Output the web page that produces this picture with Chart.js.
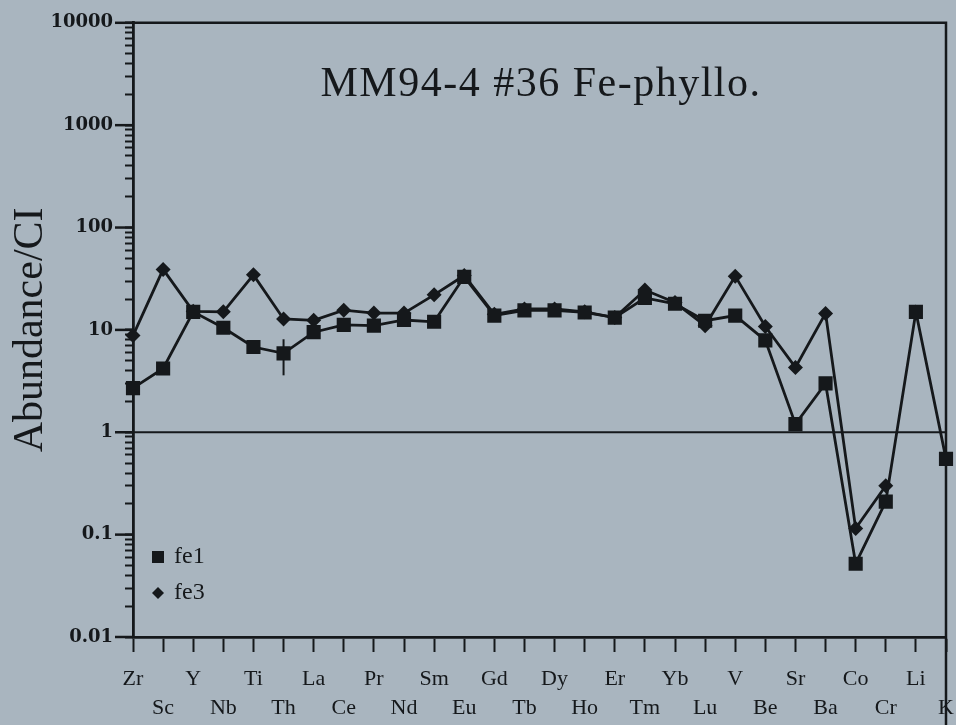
<!DOCTYPE html>
<html lang="en">
<head>
  <meta charset="UTF-8">
  <title>MM94-4 #36 Fe-phyllo.</title>
  <script src="https://cdn.jsdelivr.net/npm/chart.js"></script>
  <style>
    body {
      margin: 0;
      padding: 0;
      background: #a9b5bf;
    }
    #chart-wrap {
      width: 956px;
      height: 725px;
    }
  </style>
</head>
<body>
  <div id="chart-wrap">
    <canvas id="spider" width="956" height="725"></canvas>
  </div>
  <script>
    // element order along the x axis
    const elements = ['Zr','Sc','Y','Nb','Ti','Th','La','Ce','Pr','Nd','Sm','Eu','Gd','Tb','Dy','Ho','Er','Tm','Yb','Lu','V','Be','Sr','Ba','Co','Cr','Li','K'];

    // abundances normalised to CI
    const fe1 = [2.7, 4.2, 15, 10.5, 6.8, 5.9, 9.5, 11.2, 11, 12.5, 12, 33, 13.8, 15.5, 15.5, 14.8, 13.2, 20.5, 18, 12.3, 13.8, 7.9, 1.2, 3.0, 0.052, 0.21, 15, 0.55];
    const fe3 = [8.8, 39, 15.2, 15, 34.5, 12.8, 12.4, 15.6, 14.6, 14.6, 22, 34, 14.2, 16, 16, 15, 13.2, 24.5, 18.5, 11, 33.5, 10.8, 4.3, 14.5, 0.115, 0.3, null, null];

    // error bar on fe1 (only Th has one)
    const fe1ErrLow  = [null,null,null,null,null,3.6,null,null,null,null,null,null,null,null,null,null,null,null,null,null,null,null,null,null,null,null,null,null];
    const fe1ErrHigh = [null,null,null,null,null,8.1,null,null,null,null,null,null,null,null,null,null,null,null,null,null,null,null,null,null,null,null,null,null];

    // y axis decades and their labels
    const decades = [0.01, 0.1, 1, 10, 100, 1000, 10000];
    const decadeLabels = ['0.01', '0.1', '1', '10', '100', '1000', '10000'];
    const refLevel = 1;

    const ink = '#15181b';
    const bg = '#a9b5bf';
    const serif = "'Liberation Serif', 'Times New Roman', serif";

    // fond, cadre, ligne a 1, barre d'erreur, titre et legende
    const decor = {
      id: 'decor',
      beforeDraw(chart) {
        const c = chart.ctx;
        c.save();
        c.fillStyle = bg;
        c.fillRect(0, 0, chart.width, chart.height);
        c.restore();
      },
      beforeDatasetsDraw(chart) {
        const c = chart.ctx;
        const a = chart.chartArea;
        const y = chart.scales.y;
        const x = chart.scales.x;
        c.save();
        c.strokeStyle = ink;
        c.lineWidth = 2.5;
        // box
        c.beginPath();
        c.moveTo(a.left, a.top);
        c.lineTo(a.right, a.top);
        c.lineTo(a.right, chart.height);
        c.stroke();
        // major ticks, longer than the minor ones
        decades.forEach(v => {
          const py = y.getPixelForValue(v);
          c.beginPath();
          c.moveTo(a.left - 18, py);
          c.lineTo(a.left, py);
          c.stroke();
        });
        // unity line
        const py1 = y.getPixelForValue(refLevel);
        c.lineWidth = 2.2;
        c.beginPath();
        c.moveTo(a.left, py1);
        c.lineTo(a.right, py1);
        c.stroke();
        // error bars
        c.lineWidth = 2;
        fe1ErrLow.forEach((lo, i) => {
          if (lo == null) return;
          const px = x.getPixelForValue(i);
          c.beginPath();
          c.moveTo(px, y.getPixelForValue(lo));
          c.lineTo(px, y.getPixelForValue(fe1ErrHigh[i]));
          c.stroke();
        });
        c.restore();
      },
      afterDraw(chart) {
        const c = chart.ctx;
        const a = chart.chartArea;
        c.save();
        c.fillStyle = ink;
        // title inside the plot
        c.font = '42px ' + serif;
        c.letterSpacing = '1.5px';
        c.textAlign = 'center';
        c.textBaseline = 'alphabetic';
        c.fillText('MM94-4 #36 Fe-phyllo.', 541, a.top + 73);
        c.letterSpacing = '0px';
        // legend, bottom left
        c.font = '24px ' + serif;
        c.textAlign = 'left';
        c.textBaseline = 'middle';
        const lx = a.left + 25;
        const ly1 = a.bottom - 80;
        const ly2 = a.bottom - 44;
        c.fillRect(lx - 6, ly1 - 6, 12, 12);
        c.beginPath();
        c.moveTo(lx - 6, ly2);
        c.lineTo(lx, ly2 - 6);
        c.lineTo(lx + 6, ly2);
        c.lineTo(lx, ly2 + 6);
        c.closePath();
        c.fill();
        c.fillText(chart.data.datasets[0].label, lx + 16, ly1);
        c.fillText(chart.data.datasets[1].label, lx + 16, ly2);
        c.restore();
      }
    };

    const ctx = document.getElementById('spider').getContext('2d');
    new Chart(ctx, {
      type: 'line',
      data: {
        labels: elements,
        datasets: [
          {
            label: 'fe1',
            data: fe1,
            borderColor: ink,
            backgroundColor: ink,
            borderWidth: 2.8,
            pointStyle: 'rect',
            pointRadius: 10,
            pointBorderWidth: 0,
            tension: 0,
            spanGaps: false
          },
          {
            label: 'fe3',
            data: fe3,
            borderColor: ink,
            backgroundColor: ink,
            borderWidth: 2.8,
            pointStyle: 'rectRot',
            pointRadius: 7.5,
            pointBorderWidth: 0,
            tension: 0,
            spanGaps: false
          }
        ]
      },
      options: {
        responsive: false,
        animation: false,
        layout: { padding: { top: 20, right: 6, left: 0, bottom: 0 } },
        plugins: {
          legend: { display: false },
          title: { display: false },
          tooltip: { enabled: false }
        },
        scales: {
          x: {
            type: 'category',
            offset: false,
            afterFit(scale) {
              scale.height = 88;
              scale.paddingLeft = 0;
              scale.paddingRight = 0;
            },
            grid: {
              display: true,
              drawOnChartArea: false,
              drawTicks: true,
              tickLength: 15,
              tickWidth: 2,
              tickColor: ink
            },
            border: { display: true, color: ink, width: 2.8 },
            ticks: {
              autoSkip: false,
              maxRotation: 0,
              minRotation: 0,
              padding: 13,
              color: ink,
              font: { family: serif, size: 22, lineHeight: 1.3 },
              callback: (val, i) => (i % 2 === 0 ? [elements[i]] : ['', elements[i]])
            }
          },
          y: {
            type: 'logarithmic',
            min: 0.01,
            max: 10000,
            afterFit(scale) { scale.width = 133; },
            afterBuildTicks(scale) {
              const t = [];
              decades.forEach((d, k) => {
                t.push({ value: d, major: true });
                if (k < decades.length - 1) {
                  for (let m = 2; m <= 9; m++) t.push({ value: +(d * m).toPrecision(3), major: false });
                }
              });
              scale.ticks = t;
            },
            grid: {
              display: true,
              drawOnChartArea: false,
              drawTicks: true,
              tickLength: 8,
              tickWidth: 2,
              tickColor: ink
            },
            border: { display: true, color: ink, width: 2.8 },
            ticks: {
              color: ink,
              padding: 12,
              autoSkip: false,
              font: { family: "'DejaVu Serif', serif", size: 18, weight: 'bold' },
              callback: (val) => {
                const k = decades.findIndex(d => Math.abs(d - val) < d * 1e-6);
                return k >= 0 ? decadeLabels[k] : '';
              }
            },
            title: {
              display: true,
              text: 'Abundance/CI',
              color: ink,
              font: { family: serif, size: 42 },
              padding: { top: 6, bottom: 0 }
            }
          }
        }
      },
      plugins: [decor]
    });
  </script>
</body>
</html>
